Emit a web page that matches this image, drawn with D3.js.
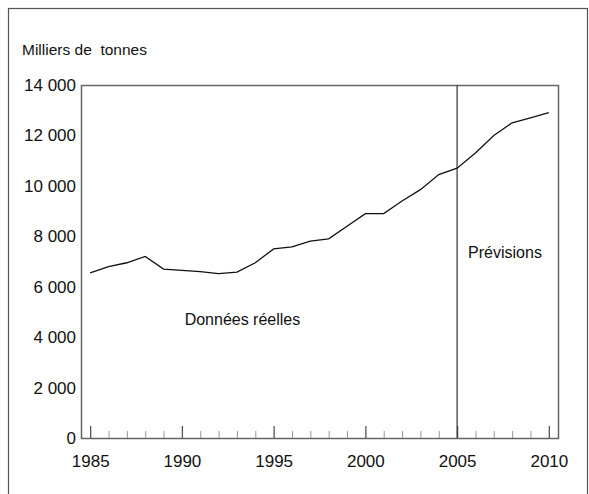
<!DOCTYPE html>
<meta charset="utf-8">
<script src="https://d3js.org/d3.v7.min.js"></script>
<style>
  body { margin: 0; background: #fff; }
  text { font-family: "Liberation Sans", Arial, sans-serif; fill: #111; }
</style>
<svg id="chart" width="589" height="494"></svg>
<script>

// data (thousands of tonnes)
var years = [1985, 1986, 1987, 1988, 1989, 1990, 1991, 1992, 1993, 1994, 1995, 1996, 1997,
             1998, 1999, 2000, 2001, 2002, 2003, 2004, 2005, 2006, 2007, 2008, 2009, 2010];
var tonnes = [6550, 6800, 6950, 7200, 6700, 6650, 6600, 6520, 6580, 6950, 7500, 7580, 7810,
              7900, 8400, 8900, 8900, 9400, 9850, 10450, 10700, 11300, 12000, 12500, 12700, 12900];
var yTicks = [0, 2000, 4000, 6000, 8000, 10000, 12000, 14000];
var xMajor = [1985, 1990, 1995, 2000, 2005, 2010];
var forecastStart = 2005;

var margin = {top: 85, right: 31, bottom: 56, left: 81};
var width = 589 - margin.left - margin.right,
    height = 494 - margin.top - margin.bottom;

var svg = d3.select("#chart");

// outer frame (bottom edge falls outside the picture)
svg.append("rect")
  .attr("x", 8.5).attr("y", 8.5)
  .attr("width", 579).attr("height", 520)
  .attr("fill", "none")
  .attr("stroke", "#555")
  .attr("stroke-width", 1.2);

svg.append("text")
  .attr("x", 22).attr("y", 55)
  .style("font-size", "15.5px")
  .style("white-space", "pre")
  .text("Milliers de  tonnes");

var g = svg.append("g")
  .attr("transform", "translate(" + margin.left + "," + margin.top + ")");

var x = d3.scaleLinear().domain([1984.5, 2010.5]).range([0, width]);
var y = d3.scaleLinear().domain([0, 14000]).range([height, 0]);

var fmt = function(d) { return d3.format(",")(d).replace(",", " "); };

// Y axis labels
var yAxis = g.append("g")
  .call(d3.axisLeft(y).tickValues(yTicks).tickSize(0).tickPadding(5).tickFormat(fmt));
yAxis.select(".domain").remove();
yAxis.selectAll("text").style("font-size", "17px").attr("fill", "#111");

// minor ticks, every year
var minor = g.append("g")
  .attr("transform", "translate(0," + height + ")")
  .call(d3.axisBottom(x).tickValues(years.filter(function(d) { return d % 5 != 0; }))
    .tickSize(-7).tickFormat(""));
minor.select(".domain").remove();
minor.selectAll("line").attr("stroke", "#999");

// major ticks with labels
var major = g.append("g")
  .attr("transform", "translate(0," + height + ")")
  .call(d3.axisBottom(x).tickValues(xMajor).tickSize(-12).tickPadding(17).tickFormat(d3.format("d")));
major.select(".domain").remove();
major.selectAll("line").attr("stroke", "#555").attr("stroke-width", 1.3);
major.selectAll("text").style("font-size", "17px").attr("fill", "#111");

// plot border
g.append("rect")
  .attr("x", 0.5).attr("y", 0.5)
  .attr("width", width).attr("height", height)
  .attr("fill", "none")
  .attr("stroke", "#666")
  .attr("stroke-width", 1.5);

// forecast divider
g.append("line")
  .attr("x1", x(forecastStart)).attr("x2", x(forecastStart))
  .attr("y1", 0).attr("y2", height)
  .attr("stroke", "#333")
  .attr("stroke-width", 1.2);

// the series
var line = d3.line()
  .x(function(d, i) { return x(years[i]); })
  .y(function(d) { return y(d); });

g.append("path")
  .datum(tonnes)
  .attr("d", line)
  .attr("fill", "none")
  .attr("stroke", "#111")
  .attr("stroke-width", 1.3);

g.append("text")
  .attr("x", x(1993.3)).attr("y", y(4500))
  .attr("text-anchor", "middle")
  .style("font-size", "16px")
  .text("Données réelles");

g.append("text")
  .attr("x", x(forecastStart) + 11).attr("y", y(7150))
  .style("font-size", "16px")
  .text("Prévisions");

</script>
